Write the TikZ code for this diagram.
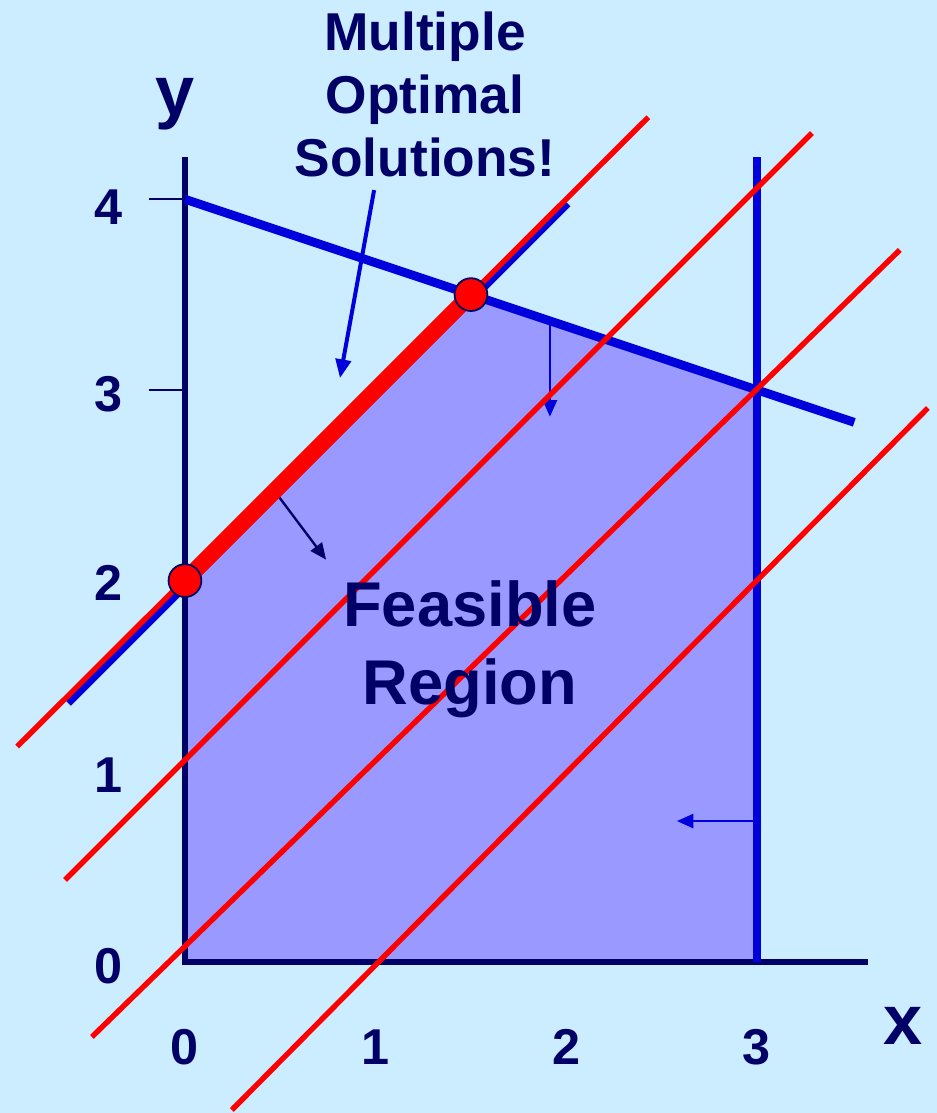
\documentclass[tikz,border=0pt]{standalone}
\usepackage{fontspec}
\setmainfont{Liberation Sans}
\usetikzlibrary{arrows.meta}
\definecolor{bgblue}{HTML}{CCECFF}
\definecolor{regionblue}{HTML}{9999FF}
\definecolor{axisnavy}{HTML}{000066}
\definecolor{limitblue}{HTML}{0000DD}
\definecolor{objred}{HTML}{FF0000}

\begin{document}
\begin{tikzpicture}[
    x=5.721cm, y=5.721cm,
    axisline/.style={draw=axisnavy, line width=5pt},
    limit/.style={draw=limitblue, line width=7.5pt},
    isoline/.style={draw=objred, line width=4.6pt},
    push/.style={-{Triangle[length=14pt, width=12pt]}, line width=2pt},
    ticklabel/.style={font=\fontsize{43}{50}\selectfont\bfseries, text=axisnavy},
    bigtext/.style={font=\fontsize{54}{66}\selectfont\bfseries, text=axisnavy, align=center},
    corner/.style={circle, fill=objred, draw=axisnavy, line width=1.5pt, inner sep=0pt, minimum size=28pt},
]
    % Background and frame
    \path[use as bounding box, fill=bgblue] (-0.970,-0.792) rectangle (3.943,5.045);

    % Corner points of the region
    \coordinate (O) at (0,0);
    \coordinate (A) at (0,2);
    \coordinate (B) at (1.5,3.5);
    \coordinate (C) at (3,3);
    \coordinate (D) at (3,0);
    \coordinate (ytop) at (0,4.22);
    \coordinate (xend) at (3.58,0);

    % Feasible region
    \fill[regionblue] (O) -- (A) -- (B) -- (C) -- (D) -- cycle;

    % Axes
    \draw[axisline, line join=miter] (ytop) -- (O) -- (xend);
    \foreach \t in {3,4}
        \draw[axisnavy, line width=1.6pt] (-0.19,\t) -- (0,\t);

    % Tick labels
    \foreach \t in {0,1,2,3}
        \node[ticklabel] (xl\t) at (\t,-0.446) {\t};
    \foreach \t/\yy in {0/-0.02,1/0.98,2/1.99,3/2.98,4/3.96}
        \node[ticklabel] (yl\t) at (-0.40,\yy) {\t};
    \node[font=\fontsize{60}{60}\selectfont\bfseries, text=axisnavy] (xlab) at (3.765,-0.335) {x};
    \node[font=\fontsize{60}{60}\selectfont\bfseries, text=axisnavy] (ylab) at (-0.052,4.50) {y};

    % Constraints
    \coordinate (L1s) at (0,4);
    \coordinate (L1e) at (3.51,2.83);
    \coordinate (L2s) at (-0.615,1.36);
    \coordinate (L2e) at (2.005,3.98);
    \coordinate (L3e) at (3,4.22);
    \draw[limit] (L1s) -- (L1e);
    \draw[limit] (D) -- (L3e);
    \draw[limit] (L2s) -- (L2e);

    % Direction arrows
    \coordinate (p1s) at (1.914,3.36);
    \coordinate (p1e) at (1.914,2.86);
    \coordinate (p2s) at (0.47,2.47);
    \coordinate (p2e) at (0.74,2.11);
    \coordinate (p3s) at (3,0.739);
    \coordinate (p3e) at (2.58,0.739);
    \draw[push, limitblue] (p1s) -- (p1e);
    \draw[push, axisnavy] (p2s) -- (p2e);
    \draw[push, limitblue] (p3s) -- (p3e);

    % Objective lines
    \coordinate (r1s) at (-0.88,1.13);
    \coordinate (r1e) at (2.43,4.43);
    \coordinate (r2s) at (-0.629,0.430);
    \coordinate (r2e) at (3.288,4.347);
    \coordinate (r3s) at (-0.488,-0.393);
    \coordinate (r3e) at (3.749,3.734);
    \coordinate (r4s) at (0.246,-0.776);
    \coordinate (r4e) at (3.896,2.905);
    \draw[isoline] (r1s) -- (r1e);
    \draw[isoline] (r2s) -- (r2e);
    \draw[isoline] (r3s) -- (r3e);
    \draw[isoline] (r4s) -- (r4e);
    \draw[objred, line width=14pt] (A) -- (B);
    \node[corner] (optA) at (A) {};
    \node[corner] (optB) at (B) {};

    % Labels
    \node[bigtext] (region) at (1.494,1.64) {Feasible\\Region};
    \node[font=\fontsize{45.5}{54}\selectfont\bfseries, text=axisnavy, align=center] (sol) at (1.259,4.55) {Multiple\\Optimal\\Solutions!};
    \coordinate (callfrom) at (0.992,4.048);
    \coordinate (callto) at (0.813,3.062);
    \draw[-{Triangle[length=16pt, width=13pt]}, limitblue, line width=3.4pt] (callfrom) -- (callto);
\end{tikzpicture}
\end{document}
